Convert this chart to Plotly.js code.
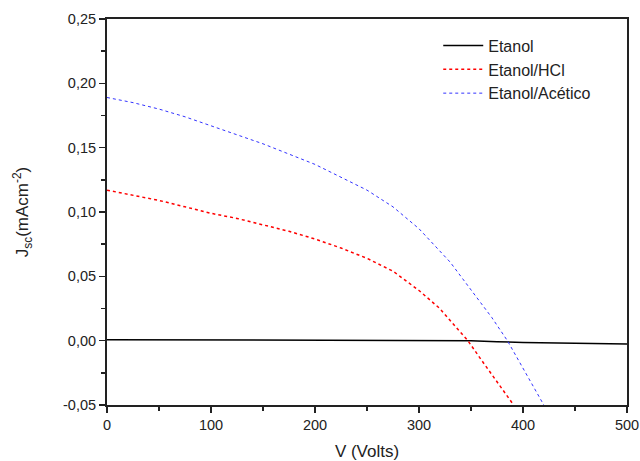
<!DOCTYPE html>
<html>
<head>
<meta charset="utf-8">
<script src="https://cdn.plot.ly/plotly-3.0.1.min.js"></script>
<style>html,body{margin:0;padding:0;background:#fff;}#chart{width:640px;height:461px;}</style>
</head>
<body>
<div id="chart"></div>
<script>
const seriesNames = ["Etanol", "Etanol/HCl", "Etanol/Acético"];

const vEtanol = [0, 50, 100, 150, 200, 250, 300, 350, 375, 400, 450, 500];
const jEtanol = [0.0008, 0.0007, 0.0006, 0.0004, 0.0003, 0.0002, 0.0001, 0.0000, -0.0008, -0.0014, -0.0020, -0.0026];

const vHCl = [0, 25, 50, 75, 100, 125, 150, 175, 200, 225, 250, 275, 300, 320, 335, 347, 360, 375, 391];
const jHCl = [0.117, 0.113, 0.109, 0.104, 0.099, 0.095, 0.090, 0.085, 0.079, 0.072, 0.064, 0.054, 0.039, 0.025, 0.011, 0.000, -0.015, -0.032, -0.050];

const vAcet = [0, 25, 50, 75, 100, 125, 150, 175, 200, 225, 250, 275, 300, 330, 357, 370, 385, 400, 420];
const jAcet = [0.189, 0.185, 0.180, 0.174, 0.167, 0.160, 0.153, 0.145, 0.137, 0.127, 0.117, 0.104, 0.087, 0.061, 0.032, 0.018, 0.000, -0.021, -0.050];

const xTickVals = [0, 100, 200, 300, 400, 500];
const xTickText = ["0", "100", "200", "300", "400", "500"];
const yTickVals = [-0.05, 0, 0.05, 0.10, 0.15, 0.20, 0.25];
const yTickText = ["-0,05", "0,00", "0,05", "0,10", "0,15", "0,20", "0,25"];

const traces = [
  {x: vEtanol, y: jEtanol, name: seriesNames[0], mode: "lines", line: {color: "#000000", width: 1.5}},
  {x: vHCl, y: jHCl, name: seriesNames[1], mode: "lines", line: {color: "#ff0000", width: 1.5, dash: "dot"}},
  {x: vAcet, y: jAcet, name: seriesNames[2], mode: "lines", line: {color: "#3333ff", width: 1, dash: "dot"}}
];

const axisCommon = {
  showgrid: false, zeroline: false, showline: true, linecolor: "#222", linewidth: 2,
  mirror: true, ticks: "outside", ticklen: 6, tickwidth: 1.5, tickcolor: "#222",
  tickfont: {family: "Liberation Sans, Arial, sans-serif", size: 14.5, color: "#222"}
};

const layout = {
  width: 640, height: 461,
  margin: {l: 107, r: 13, t: 19, b: 56},
  paper_bgcolor: "#fff", plot_bgcolor: "#fff",
  font: {family: "Liberation Sans, Arial, sans-serif", color: "#222"},
  showlegend: true,
  legend: {x: 0.637, y: 0.975, xanchor: "left", yanchor: "top", bgcolor: "rgba(0,0,0,0)",
           font: {size: 16, color: "#222"}, tracegroupgap: 0, itemwidth: 40},
  xaxis: Object.assign({}, axisCommon, {
    range: [0, 500], tickmode: "array", tickvals: xTickVals, ticktext: xTickText,
    minor: {ticks: "outside", ticklen: 4, tickwidth: 1.5, tickcolor: "#222", dtick: 50, showgrid: false},
    title: {text: "V (Volts)", font: {size: 17, color: "#222"}, standoff: 13}
  }),
  yaxis: Object.assign({}, axisCommon, {
    range: [-0.05, 0.25], tickmode: "array", tickvals: yTickVals, ticktext: yTickText,
    minor: {ticks: "outside", ticklen: 4, tickwidth: 1.5, tickcolor: "#222", dtick: 0.025, showgrid: false},
    title: {text: "J<sub>sc</sub>(mAcm<sup>-2</sup>)", font: {size: 17, color: "#222"}, standoff: 30}
  })
};

Plotly.newPlot("chart", traces, layout, {displayModeBar: false, staticPlot: true});
</script>
</body>
</html>
